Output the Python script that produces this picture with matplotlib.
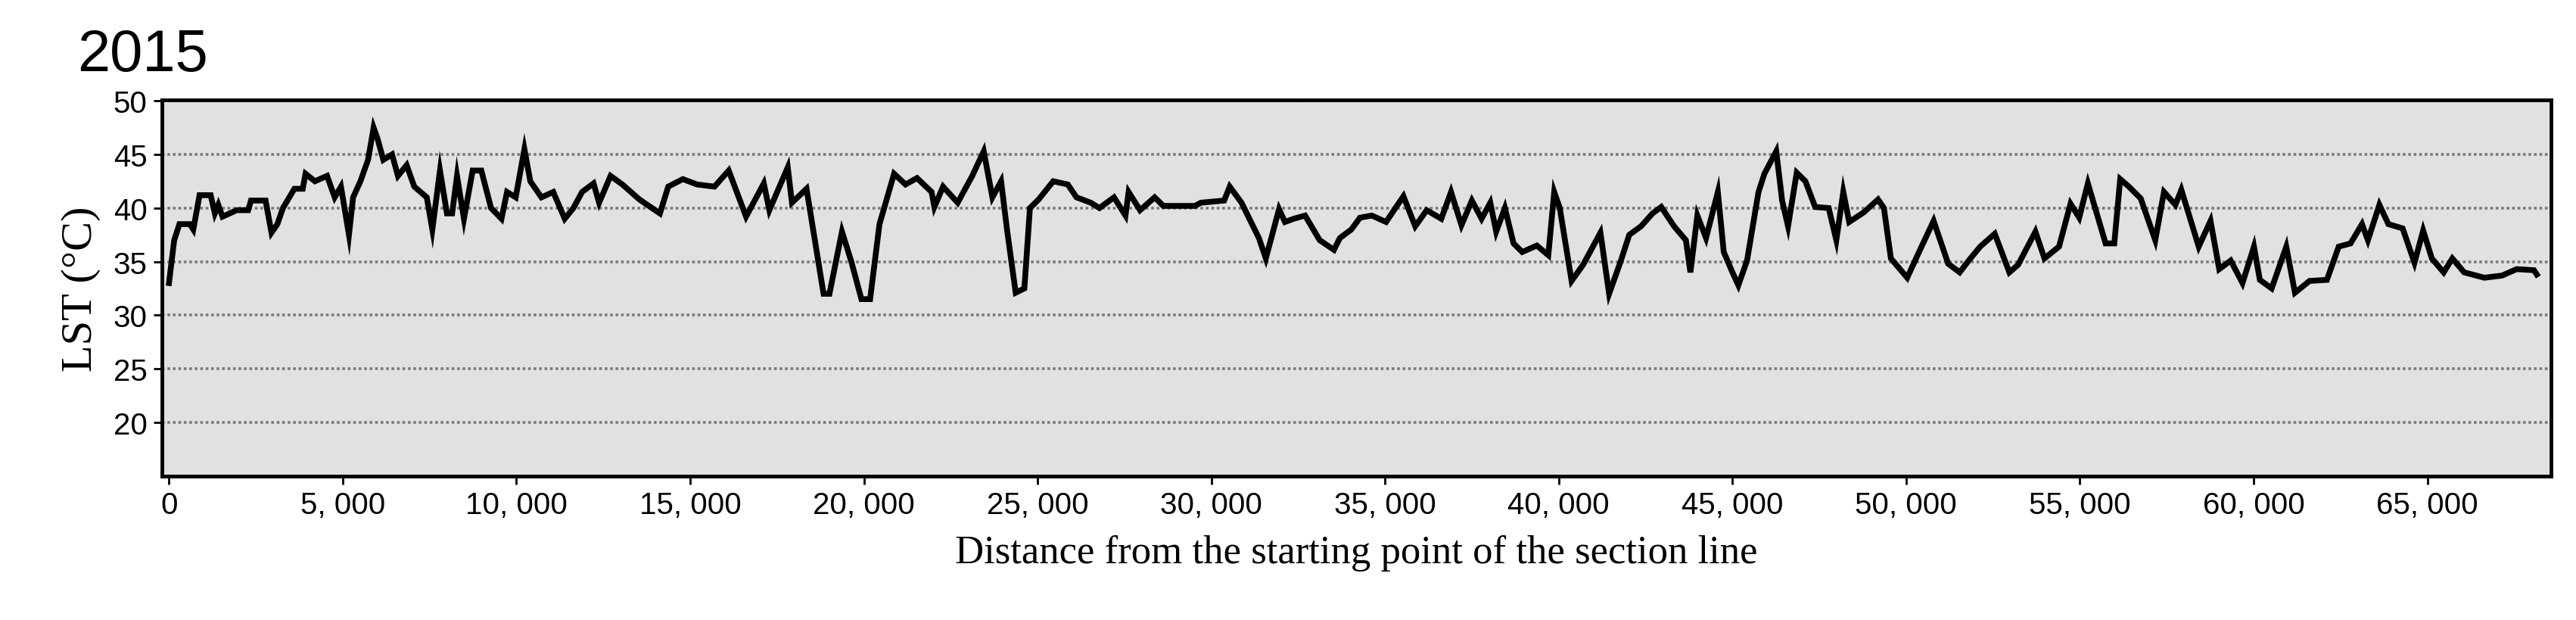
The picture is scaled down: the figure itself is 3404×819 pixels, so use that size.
import matplotlib.pyplot as plt
from matplotlib.ticker import FuncFormatter

# distance along section line (m) and LST (degC)
distance = [
    0, 150, 300, 600, 700, 880, 1200, 1320, 1420, 1540, 1950, 2280, 2360, 2780, 2950, 3120,
    3280, 3610, 3850, 3930, 4200, 4550, 4770, 4950, 5180, 5300, 5510, 5730, 5890, 6000,
    6170, 6420, 6590, 6840, 7060, 7420, 7580, 7800, 8000, 8150, 8290, 8490, 8740, 8990,
    9270, 9570, 9730, 9980, 10230, 10400, 10720, 11060, 11390, 11640, 11890, 12220, 12380,
    12710, 13050, 13540, 14130, 14370, 14790, 15200, 15700, 16110, 16610, 17120, 17280,
    17810, 17930, 18350, 18640, 18840, 19010, 19370, 19640, 19930, 20180, 20450, 20870,
    21200, 21530, 21950, 22030, 22280, 22700, 23120, 23450, 23700, 23950, 24120, 24370,
    24620, 24780, 25030, 25450, 25870, 26120, 26530, 26780, 27200, 27530, 27620, 27950,
    28370, 28620, 29530, 29700, 30370, 30530, 30870, 31370, 31570, 31950, 32120, 32370,
    32700, 33120, 33530, 33700, 34030, 34280, 34620, 35030, 35530, 35870, 36200, 36620,
    36900, 37200, 37500, 37780, 38030, 38200, 38450, 38700, 38950, 39370, 39700, 39870,
    40030, 40370, 40700, 41200, 41450, 41780, 42030, 42370, 42700, 42950, 43320, 43660,
    43790, 43990, 44240, 44580, 44750, 45000, 45170, 45420, 45750, 45920, 46260, 46430,
    46600, 46850, 47100, 47380, 47770, 47990, 48190, 48360, 48780, 49190, 49360, 49560,
    50030, 50370, 50790, 51210, 51540, 51800, 52130, 52550, 52970, 53220, 53720, 53980,
    54400, 54730, 54980, 55230, 55740, 55990, 56160, 56410, 56750, 57170, 57420, 57750,
    57920, 58420, 58760, 59010, 59340, 59680, 60010, 60180, 60520, 60940, 61190, 61610,
    62110, 62450, 62790, 63120, 63290, 63620, 63880, 64290, 64630, 64880, 65130, 65470,
    65720, 66060, 66640, 67150, 67570, 68070, 68150,
]
lst = [
    33.0, 37.0, 38.5, 38.5, 38.0, 41.2, 41.2, 39.5, 40.3, 39.2, 39.8, 39.8, 40.7, 40.7, 37.7, 38.5,
    40.0, 41.8, 41.8, 43.2, 42.5, 43.0, 41.0, 42.0, 37.5, 41.0, 42.5, 44.5, 47.5, 46.5,
    44.5, 45.0, 43.0, 44.0, 42.0, 41.0, 38.0, 43.5, 39.5, 39.5, 43.0, 39.0, 43.5, 43.5,
    40.0, 39.0, 41.5, 41.0, 45.5, 42.5, 41.0, 41.5, 39.0, 40.0, 41.5, 42.3, 40.5,
    43.0, 42.2, 40.8, 39.5, 42.0, 42.7, 42.2, 42.0, 43.5, 39.2, 42.3, 39.8,
    43.8, 40.5, 41.8, 36.0, 32.0, 32.0, 37.8, 35.0, 31.5, 31.5, 38.5, 43.2,
    42.2, 42.8, 41.5, 40.1, 42.0, 40.5, 43.0, 45.3, 41.0, 42.5, 38.0, 32.1,
    32.5, 40.0, 40.8, 42.5, 42.2, 41.0, 40.5, 40.0, 41.0, 39.3, 41.5, 39.8,
    41.0, 40.2, 40.2, 40.5, 40.7, 42.0, 40.5, 37.2, 35.3, 39.9, 38.7, 39.0,
    39.3, 37.0, 36.1, 37.2, 38.0, 39.1, 39.3, 38.7, 41.1, 38.3, 39.8, 39.0,
    41.5, 38.4, 40.7, 39.0, 40.5, 37.8, 40.0, 36.7, 35.9, 36.5, 35.6, 41.5,
    40.0, 33.2, 34.7, 37.7, 32.0, 35.0, 37.5, 38.3, 39.5, 40.1, 38.3, 37.0,
    34.0, 39.3, 37.2, 41.5, 35.9, 34.0, 32.8, 35.1, 41.5, 43.2, 45.3, 40.7,
    38.3, 43.3, 42.5, 40.1, 40.0, 37.0, 41.5, 38.7, 39.6, 40.8, 40.0, 35.3,
    33.5, 35.9, 38.8, 34.8, 34.0, 35.1, 36.4, 37.6, 34.0, 34.7, 37.8, 35.3,
    36.4, 40.4, 39.1, 42.3, 36.7, 36.7, 42.7, 42.0, 40.9, 37.0, 41.5, 40.3,
    41.7, 36.4, 38.8, 34.3, 35.1, 33.0, 36.4, 33.3, 32.5, 36.4, 32.1, 33.2,
    33.3, 36.4, 36.7, 38.5, 37.0, 40.3, 38.5, 38.1, 34.9, 37.9, 35.3, 34.0,
    35.3, 34.0, 33.5, 33.7, 34.3, 34.2, 33.8,
]
y_ticks = [20, 25, 30, 35, 40, 45, 50]
x_ticks = list(range(0, 70000, 5000))

fig = plt.figure(figsize=(34.04, 8.2), dpi=100)
fig.patch.set_facecolor("white")
ax = fig.add_axes([0.0629, 0.232, 0.9274, 0.606])
ax.set_facecolor("#e1e1e1")

ax.plot(distance, lst, color="black", linewidth=5.5, solid_joinstyle="miter")

ax.set_xlim(-200, 68560)
ax.set_ylim(15, 50.1)
ax.set_yticks(y_ticks)
ax.set_xticks(x_ticks)
ax.xaxis.set_major_formatter(FuncFormatter(lambda v, _: f"{int(v):,}".replace(",", ", ")))
ax.yaxis.grid(True, color="#7a7a7a", linestyle=(0, (1, 1)), linewidth=2.6)
ax.set_axisbelow(True)

for side in ["top", "bottom", "left", "right"]:
    ax.spines[side].set_linewidth(3.5)
    ax.spines[side].set_color("black")

ax.tick_params(axis="both", direction="out", length=8, width=2, labelsize=29, pad=6)
for lab in ax.get_xticklabels() + ax.get_yticklabels():
    lab.set_family("Liberation Sans")

ax.set_xlabel("Distance from the starting point of the section line", family="Liberation Serif",
              fontsize=38, labelpad=14)
ax.set_ylabel("LST (\u00b0C)", family="Liberation Serif", fontsize=42, labelpad=12)

fig.text(0.030, 0.955, "2015", family="Liberation Sans", fontsize=56, va="top", ha="left")

fig.savefig("out.png", dpi=100, facecolor=fig.get_facecolor())
